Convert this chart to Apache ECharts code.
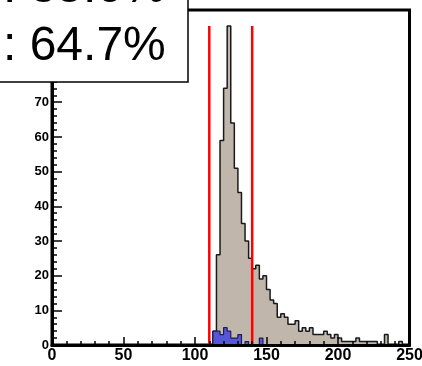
<!DOCTYPE html>
<html>
<head>
<meta charset="utf-8">
<script src="https://cdn.jsdelivr.net/npm/echarts@6/dist/echarts.min.js"></script>
<style>
  html, body { margin: 0; padding: 0; background: #fff; }
  #chart { width: 422px; height: 366px; }
</style>
</head>
<body>
<div id="chart"></div>
<script>
// 100 bins of width 2.5 over 0..250
const binWidth = 2.5;

// all events (tan histogram)
const allCounts = [
  0, 0, 0, 0, 0, 0, 0, 0, 0, 0,
  0, 0, 0, 0, 0, 0, 0, 0, 0, 0,
  0, 0, 0, 0, 0, 0, 0, 0, 0, 0,
  0, 0, 0, 0, 0, 0, 0, 0, 0, 0,
  0, 0, 0, 0, 0, 4, 26, 59, 74, 92,
  64, 51, 44, 35, 30, 25, 22, 23, 19, 20,
  16, 13, 12, 8, 9, 8, 6, 6, 7, 4,
  5, 4, 5, 3, 3, 3, 4, 3, 2, 3,
  2, 1, 1, 1, 1, 2, 1, 1, 1, 1,
  1, 0, 0, 3, 0, 0, 0, 1, 0, 0
];

// selected events (blue histogram)
const signalCounts = [
  0, 0, 0, 0, 0, 0, 0, 0, 0, 0,
  0, 0, 0, 0, 0, 0, 0, 0, 0, 0,
  0, 0, 0, 0, 0, 0, 0, 0, 0, 0,
  0, 0, 0, 0, 0, 0, 0, 0, 0, 0,
  0, 0, 0, 0, 0, 4, 4, 3, 5, 4,
  2, 2, 3, 0, 1, 0, 0, 0, 2, 0,
  0, 0, 0, 0, 0, 0, 0, 0, 0, 0,
  0, 0, 0, 0, 0, 0, 0, 0, 0, 0,
  0, 0, 0, 0, 0, 0, 0, 0, 0, 0,
  0, 0, 0, 0, 0, 0, 0, 0, 0, 0
];

// window cuts (red lines)
const cutValues = [110, 140];

// text in the stats box
const boxLines = [': 85.0%', ': 64.7%'];

function stepData(counts) {
  const pts = counts.map((c, i) => [i * binWidth, c]);
  pts.push([counts.length * binWidth, counts[counts.length - 1]]);
  return pts;
}

const peak = Math.max(...allCounts);

const chart = echarts.init(document.getElementById('chart'), null, {renderer: 'canvas'});

const axisFont = '"Liberation Sans", Arial, sans-serif';

const series = [
  {
    name: 'all',
    type: 'line',
    step: 'end',
    symbol: 'none',
    z: 2,
    lineStyle: {color: '#1a1a1a', width: 1.5},
    areaStyle: {color: '#c1b6ab', opacity: 1},
    data: stepData(allCounts)
  },
  {
    name: 'signal',
    type: 'line',
    step: 'end',
    symbol: 'none',
    z: 3,
    lineStyle: {color: '#1c1c5a', width: 1.2},
    areaStyle: {color: '#5656d6', opacity: 1},
    data: stepData(signalCounts)
  }
];

cutValues.forEach(function (v) {
  series.push({
    type: 'line',
    symbol: 'none',
    z: 4,
    silent: true,
    lineStyle: {color: '#ff0000', width: 2.5},
    data: [[v, 0], [v, peak]]
  });
});

const option = {
  animation: false,
  backgroundColor: '#fff',
  grid: {
    left: 52,
    right: 12.5,
    top: 10,
    bottom: 21,
    show: true,
    borderColor: '#000',
    borderWidth: 3,
    backgroundColor: 'transparent',
    outerBoundsMode: 'none',
    containLabel: false
  },
  xAxis: {
    type: 'value',
    min: 0,
    max: 250,
    interval: 50,
    z: 10,
    axisLine: {show: true, onZero: false, lineStyle: {color: '#000', width: 3}},
    axisTick: {show: true, inside: true, length: 8, lineStyle: {color: '#000', width: 1.5}},
    minorTick: {show: true, splitNumber: 5, length: 4, lineStyle: {color: '#000', width: 1.5}},
    axisLabel: {
      color: '#000',
      fontFamily: axisFont,
      fontWeight: 'bold',
      fontSize: 16,
      margin: 3
    },
    splitLine: {show: false},
    minorSplitLine: {show: false}
  },
  yAxis: {
    type: 'value',
    min: 0,
    max: 96.6,
    interval: 10,
    z: 10,
    axisLine: {show: true, onZero: false, lineStyle: {color: '#000', width: 3}},
    axisTick: {show: true, inside: true, length: 10, lineStyle: {color: '#000', width: 1.5}},
    minorTick: {show: true, splitNumber: 5, length: 5, lineStyle: {color: '#000', width: 1.5}},
    axisLabel: {
      color: '#000',
      fontFamily: axisFont,
      fontWeight: 'bold',
      fontSize: 13,
      margin: 3,
      showMaxLabel: false
    },
    splitLine: {show: false},
    minorSplitLine: {show: false}
  },
  graphic: [
    {
      type: 'rect',
      z: 100,
      shape: {x: -2, y: -2, width: 190, height: 84},
      style: {fill: '#fff', stroke: '#000', lineWidth: 1.5}
    },
    {
      type: 'text',
      z: 101,
      x: 3,
      y: -11,
      style: {text: boxLines[0], fill: '#000', font: '48px "Liberation Sans", Arial, sans-serif', verticalAlign: 'middle'}
    },
    {
      type: 'text',
      z: 101,
      x: 3,
      y: 47,
      style: {text: boxLines[1], fill: '#000', font: '48px "Liberation Sans", Arial, sans-serif', verticalAlign: 'middle'}
    }
  ],
  series: series
};

chart.setOption(option);
</script>
</body>
</html>
